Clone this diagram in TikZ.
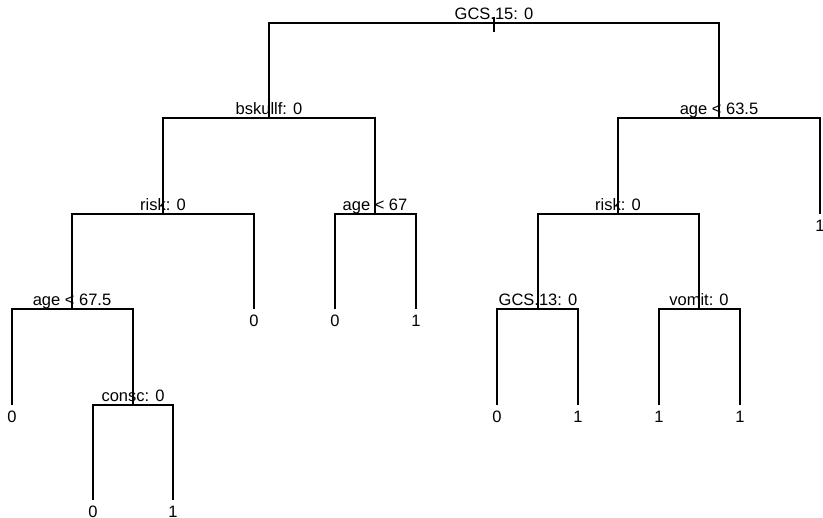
\documentclass[tikz,border=0pt]{standalone}
\usepackage{fontspec}
\setmainfont{Liberation Sans}
\usetikzlibrary{positioning}

\begin{document}
\begin{tikzpicture}[x=0.5pt,y=-0.5pt,
  split/.style={anchor=base,inner sep=0pt,yshift=1.75pt,font=\fontsize{8.25}{10}\selectfont},
  leaf/.style={anchor=base,inner sep=0pt,yshift=-8.5pt,font=\fontsize{8.25}{10}\selectfont},
  branch/.style={line width=0.55pt}]
\useasboundingbox (0,0) rectangle (823,518);

% Split points
\coordinate (root) at (494,23);
\coordinate (bskullf) at (269,118);
\coordinate (ageA) at (719,118);
\coordinate (riskL) at (163,214);
\coordinate (ageB) at (375,214);
\coordinate (riskR) at (618,214);
\coordinate (ageC) at (72,309);
\coordinate (gcs) at (538,309);
\coordinate (vomit) at (699,309);
\coordinate (consc) at (133,405);

% Leaves
\coordinate (lfA) at (820,214);
\coordinate (lfB) at (254,309);
\coordinate (lfC) at (335,309);
\coordinate (lfD) at (416,309);
\coordinate (lfE) at (12,405);
\coordinate (lfF) at (497,405);
\coordinate (lfG) at (578,405);
\coordinate (lfH) at (659,405);
\coordinate (lfI) at (740,405);
\coordinate (lfJ) at (93,500);
\coordinate (lfK) at (173,500);

% Branches
\draw[branch] (root) ++(0,-6) -- ++(0,15);
\draw[branch] (bskullf) |- (root) -| (ageA);
\draw[branch] (riskL) |- (bskullf) -| (ageB);
\draw[branch] (riskR) |- (ageA) -| (lfA);
\draw[branch] (ageC) |- (riskL) -| (lfB);
\draw[branch] (lfC) |- (ageB) -| (lfD);
\draw[branch] (gcs) |- (riskR) -| (vomit);
\draw[branch] (lfE) |- (ageC) -| (consc);
\draw[branch] (lfF) |- (gcs) -| (lfG);
\draw[branch] (lfH) |- (vomit) -| (lfI);
\draw[branch] (lfJ) |- (consc) -| (lfK);

% Split labels
\node[split] (t-root) at (root) {GCS.15: 0};
\node[split] (t-bskullf) at (bskullf) {bskullf: 0};
\node[split] (t-ageA) at (ageA) {age < 63.5};
\node[split] (t-riskL) at (riskL) {risk: 0};
\node[split] (t-ageB) at (ageB) {age < 67};
\node[split] (t-riskR) at (riskR) {risk: 0};
\node[split] (t-ageC) at (ageC) {age < 67.5};
\node[split] (t-gcs) at (gcs) {GCS.13: 0};
\node[split] (t-vomit) at (vomit) {vomit: 0};
\node[split] (t-consc) at (consc) {consc: 0};

% Leaf labels
\node[leaf] (t-lfA) at (lfA) {1};
\node[leaf] (t-lfB) at (lfB) {0};
\node[leaf] (t-lfC) at (lfC) {0};
\node[leaf] (t-lfD) at (lfD) {1};
\node[leaf] (t-lfE) at (lfE) {0};
\node[leaf] (t-lfF) at (lfF) {0};
\node[leaf] (t-lfG) at (lfG) {1};
\node[leaf] (t-lfH) at (lfH) {1};
\node[leaf] (t-lfI) at (lfI) {1};
\node[leaf] (t-lfJ) at (lfJ) {0};
\node[leaf] (t-lfK) at (lfK) {1};
\end{tikzpicture}
\end{document}
